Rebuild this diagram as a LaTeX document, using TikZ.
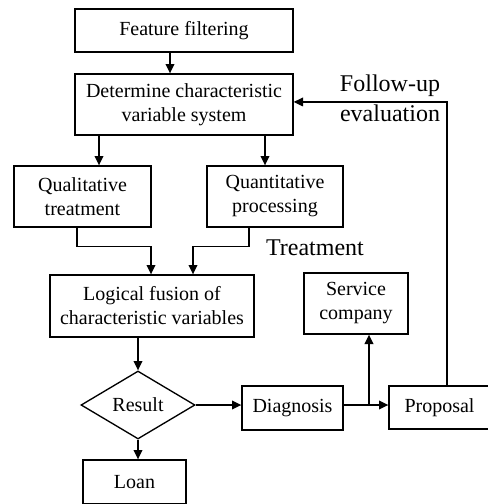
\documentclass[tikz,border=0pt]{standalone}
\usepackage{fontspec}
\setmainfont{Liberation Serif}
\usetikzlibrary{shapes.geometric,arrows.meta}

\begin{document}
\begin{tikzpicture}[x=0.75pt,y=-0.75pt,line width=1pt,
	box/.style={draw,align=center,inner sep=0pt,font=\fontsize{15}{18}\selectfont},
	lbl/.style={align=center,inner sep=0pt,font=\fontsize{18}{22.5}\selectfont},
	arr/.style={-{Triangle[length=7pt,width=6.5pt]}}]
	\useasboundingbox (0,0) rectangle (488,504);
	\node[box,minimum width=163.5pt,minimum height=32.25pt] (feat) at (184,30.5) {Feature filtering};
	\node[box,minimum width=163.5pt,minimum height=45.75pt] (det) at (184,104.5) {Determine characteristic\\variable system};
	\node[box,minimum width=102.75pt,minimum height=45.75pt] (qual) at (82.5,196.5) {Qualitative\\treatment};
	\node[box,minimum width=102pt,minimum height=45.75pt] (quant) at (275,196.5) {Quantitative\\processing};
	\node[box,minimum width=153pt,minimum height=46.5pt] (fus) at (152,306) {Logical fusion of\\characteristic variables};
	\node[box,diamond,minimum width=85.5pt,minimum height=51pt] (res) at (138,405) {Result};
	\node[box,minimum width=77.25pt,minimum height=33pt] (loan) at (134.5,482) {Loan};
	\node[box,minimum width=75.75pt,minimum height=33pt] (diag) at (292.5,408) {Diagnosis};
	\node[box,minimum width=78pt,minimum height=45.75pt] (serv) at (356,303.5) {Service\\company};
	\node[box,minimum width=75.75pt,minimum height=32.25pt] (prop) at (439.5,407.5) {Proposal};
	\node[lbl] (follow) at (390,98) {Follow-up\\evaluation};
	\node[lbl] (treat) at (315,248) {Treatment};
	\coordinate (branch) at (369,405);
	% connectors
	\draw[arr] ([xshift=-10.5pt]feat.south) -- ([xshift=-10.5pt]det.north);
	\draw[arr] ([xshift=-63.75pt]det.south) -- ([xshift=-63.75pt]det.south |- qual.north);
	\draw[arr] ([xshift=60.75pt]det.south) -- ([xshift=60.75pt]det.south |- quant.north);
	\draw[arr] ([xshift=-4.1pt]qual.south) -- ++(0,19) -| ([xshift=-0.75pt]fus.north);
	\draw[arr] ([xshift=-19.5pt]quant.south) -- ++(0,19) -| ([xshift=30.75pt]fus.north);
	\draw[arr] ([xshift=-10.5pt]fus.south) -- (res.north);
	\draw[arr] (res.south) -- (res.south |- loan.north);
	\draw[arr] (res.east) -- (res.east -| diag.west);
	\draw[arr] (res.east -| diag.east) -- (res.east -| prop.west);
	\draw[arr] (branch) -- (branch |- serv.south);
	\draw[arr] ([xshift=5.6pt]prop.north) |- ([yshift=1.9pt]det.east);
\end{tikzpicture}
\end{document}
